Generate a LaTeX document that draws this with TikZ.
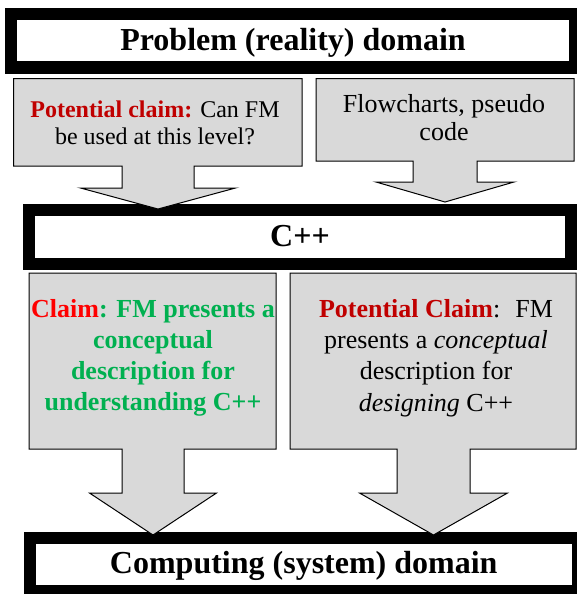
\documentclass[tikz,border=0pt]{standalone}
\usepackage{fontspec}
\setmainfont{Liberation Serif}
\usepackage{xcolor}
\definecolor{claim-red}{RGB}{192,0,0}
\definecolor{claim-green}{RGB}{0,176,80}
\definecolor{callout-gray}{RGB}{217,217,217}
\tikzset{
    domain-box/.style = {draw=black, fill=white, line width=12pt, rectangle, inner sep=0pt, text height=22pt, text depth=3pt, font=\fontsize{32}{36}\selectfont\bfseries},
    callout-shape/.style = {draw=black, fill=callout-gray, line width=1pt, line join=miter},
    callout-text/.style = {align=center, inner sep=0pt},
}
\newcommand{\downcallout}[9]{%
  \path[callout-shape] (#1,#2) -- (#3,#2) -- (#3,#4) -- ({#5+#6},#4) -- ({#5+#6},#7) -- ({#5+#8},#7) -- (#5,#9)
    -- ({#5-#8},#7) -- ({#5-#6},#7) -- ({#5-#6},#4) -- (#1,#4) -- cycle;}

\begin{document}
\begin{tikzpicture}[x=1pt, y=-1pt]
\useasboundingbox (0,0) rectangle (577,594);
\node[domain-box, minimum width=564pt, minimum height=53.5pt] (problem) at (293,40.75) {Problem (reality) domain};
\node[domain-box, minimum width=542pt, minimum height=54pt] (cpp) at (300,237) {C++};
\node[domain-box, minimum width=548.5pt, minimum height=53pt] (computing) at (303.75,564) {Computing (system) domain};

\downcallout{13.5}{78.5}{302}{166}{158}{36}{188}{77.5}{209}
\downcallout{316}{78.5}{574}{161}{445}{32}{182}{69}{202}
\downcallout{29}{273}{276}{449}{153}{31}{493}{63.5}{535}
\downcallout{290}{273}{576}{449}{433.5}{36.5}{493}{74}{535}

\node[callout-text, font=\fontsize{24}{27}\selectfont] (fm-level) at (155,122.5)
    {\textcolor{claim-red}{\bfseries Potential claim:} Can FM\\be used at this level?};
\node[callout-text, font=\fontsize{26}{28}\selectfont] (flowcharts) at (444,117.3)
    {Flowcharts, pseudo\\code};
\node[callout-text, font=\fontsize{26}{31.3}\selectfont\bfseries, text=claim-green] (understanding) at (153,357.8)
    {\textcolor{red}{Claim}: FM presents a\\conceptual\\description for\\understanding C++};
\node[callout-text, font=\fontsize{26}{31.3}\selectfont] (designing) at (436,357.9)
    {\textcolor{claim-red}{\bfseries Potential Claim}:~ FM\\presents a \emph{conceptual}\\description for\\\emph{designing} C++};
\end{tikzpicture}
\end{document}
